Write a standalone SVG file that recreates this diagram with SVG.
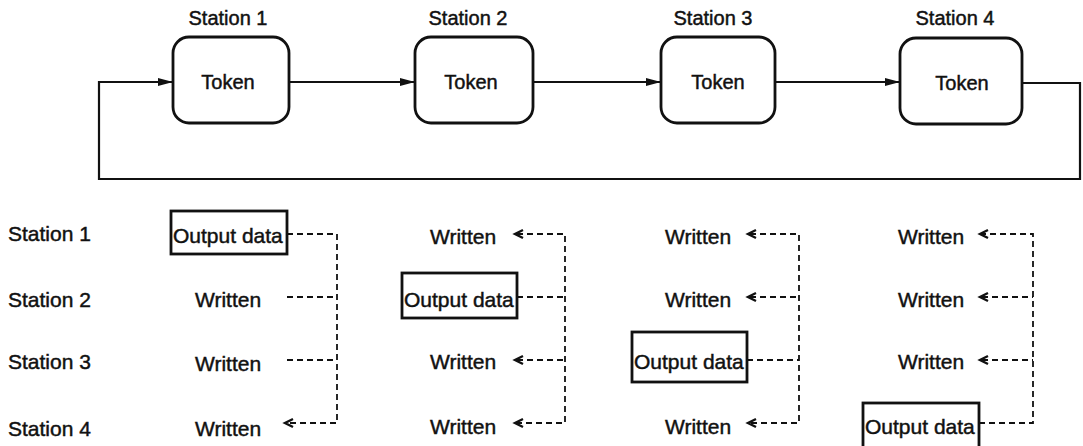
<svg xmlns="http://www.w3.org/2000/svg" width="1083" height="446" viewBox="0 0 1083 446">
  <style>
    text { font-family: "Liberation Sans", Arial, sans-serif; fill: #111; stroke: #111; stroke-width: 0.45; }
    .lbl { font-size: 20px; }
    .row { font-size: 21px; }
    .tok { fill: #fff; stroke: #111; stroke-width: 2.8; }
    .out { fill: none; stroke: #111; stroke-width: 2.8; }
    .ring { fill: none; stroke: #111; stroke-width: 2.2; }
    .dash { fill: none; stroke: #111; stroke-width: 1.8; stroke-dasharray: 6 4; }
    .head { fill: none; stroke: #111; stroke-width: 2.4; stroke-linejoin: miter; }
  </style>
  <defs>
    <marker id="solid" markerWidth="16" markerHeight="10" refX="15" refY="5" orient="auto" markerUnits="userSpaceOnUse">
      <path d="M0,1 L15,5 L0,9 Z" fill="#111"/>
    </marker>
  </defs>

  <!-- token ring -->
  <g id="connectors">
    <path class="ring" d="M289,82 L415,82" marker-end="url(#solid)"/>
    <path class="ring" d="M533,82 L661,82" marker-end="url(#solid)"/>
    <path class="ring" d="M775,82 L900,82" marker-end="url(#solid)"/>
    <path class="ring" d="M1022,83 L1080,83 L1080,179 L99,179 L99,82 L173,82" marker-end="url(#solid)"/>

    <!-- column 1: station 1 writes -->
    <path class="dash" d="M287,234 L337,234 L337,423 L287,423"/>
    <path class="dash" d="M287,297 L337,297"/>
    <path class="dash" d="M287,360 L337,360"/>
    <path class="head" d="M293,419 L285,423 L293,427"/>

    <!-- column 2: station 2 writes -->
    <path class="dash" d="M517,297 L565,297"/>
    <path class="dash" d="M517,234 L565,234 L565,423 L517,423"/>
    <path class="dash" d="M517,360 L565,360"/>
    <path class="head" d="M523,230 L515,234 L523,238"/>
    <path class="head" d="M523,356 L515,360 L523,364"/>
    <path class="head" d="M523,419 L515,423 L523,427"/>

    <!-- column 3: station 3 writes -->
    <path class="dash" d="M747,360 L799,360"/>
    <path class="dash" d="M750,234 L799,234 L799,423 L750,423"/>
    <path class="dash" d="M750,297 L799,297"/>
    <path class="head" d="M756,230 L748,234 L756,238"/>
    <path class="head" d="M756,293 L748,297 L756,301"/>
    <path class="head" d="M756,419 L748,423 L756,427"/>

    <!-- column 4: station 4 writes -->
    <path class="dash" d="M979,423 L1033,423 L1033,234 L982,234"/>
    <path class="dash" d="M982,297 L1033,297"/>
    <path class="dash" d="M982,360 L1033,360"/>
    <path class="head" d="M988,230 L980,234 L988,238"/>
    <path class="head" d="M988,293 L980,297 L988,301"/>
    <path class="head" d="M988,356 L980,360 L988,364"/>
  </g>

  <!-- stations on the ring -->
  <g id="station1">
    <text class="lbl" x="228" y="25" text-anchor="middle">Station 1</text>
    <rect class="tok" x="173" y="37" width="116" height="86" rx="16"/>
    <text class="lbl" x="228" y="89" text-anchor="middle">Token</text>
  </g>
  <g id="station2">
    <text class="lbl" x="468" y="25" text-anchor="middle">Station 2</text>
    <rect class="tok" x="415" y="37" width="118" height="86" rx="16"/>
    <text class="lbl" x="471" y="89" text-anchor="middle">Token</text>
  </g>
  <g id="station3">
    <text class="lbl" x="713" y="25" text-anchor="middle">Station 3</text>
    <rect class="tok" x="661" y="37" width="114" height="86" rx="16"/>
    <text class="lbl" x="718" y="89" text-anchor="middle">Token</text>
  </g>
  <g id="station4">
    <text class="lbl" x="955" y="25" text-anchor="middle">Station 4</text>
    <rect class="tok" x="900" y="38" width="122" height="86" rx="16"/>
    <text class="lbl" x="962" y="90" text-anchor="middle">Token</text>
  </g>

  <!-- row labels -->
  <g id="rows">
    <text class="row" x="8" y="241">Station 1</text>
    <text class="row" x="8" y="307">Station 2</text>
    <text class="row" x="8" y="369">Station 3</text>
    <text class="row" x="8" y="436">Station 4</text>
  </g>

  <!-- column 1 -->
  <g id="col1">
    <rect class="out" x="171" y="211" width="116" height="43"/>
    <text class="row" x="173" y="243">Output data</text>
    <text class="row" x="195" y="307">Written</text>
    <text class="row" x="195" y="371">Written</text>
    <text class="row" x="195" y="436">Written</text>
  </g>

  <!-- column 2 -->
  <g id="col2">
    <text class="row" x="430" y="244">Written</text>
    <rect class="out" x="402" y="273" width="115" height="45"/>
    <text class="row" x="404" y="307">Output data</text>
    <text class="row" x="430" y="369">Written</text>
    <text class="row" x="430" y="434">Written</text>
  </g>

  <!-- column 3 -->
  <g id="col3">
    <text class="row" x="665" y="244">Written</text>
    <text class="row" x="665" y="307">Written</text>
    <rect class="out" x="632" y="332" width="115" height="50"/>
    <text class="row" x="634" y="369">Output data</text>
    <text class="row" x="665" y="434">Written</text>
  </g>

  <!-- column 4 -->
  <g id="col4">
    <text class="row" x="898" y="244">Written</text>
    <text class="row" x="898" y="307">Written</text>
    <text class="row" x="898" y="369">Written</text>
    <rect class="out" x="863" y="403" width="116" height="46"/>
    <text class="row" x="865" y="434">Output data</text>
  </g>
</svg>
